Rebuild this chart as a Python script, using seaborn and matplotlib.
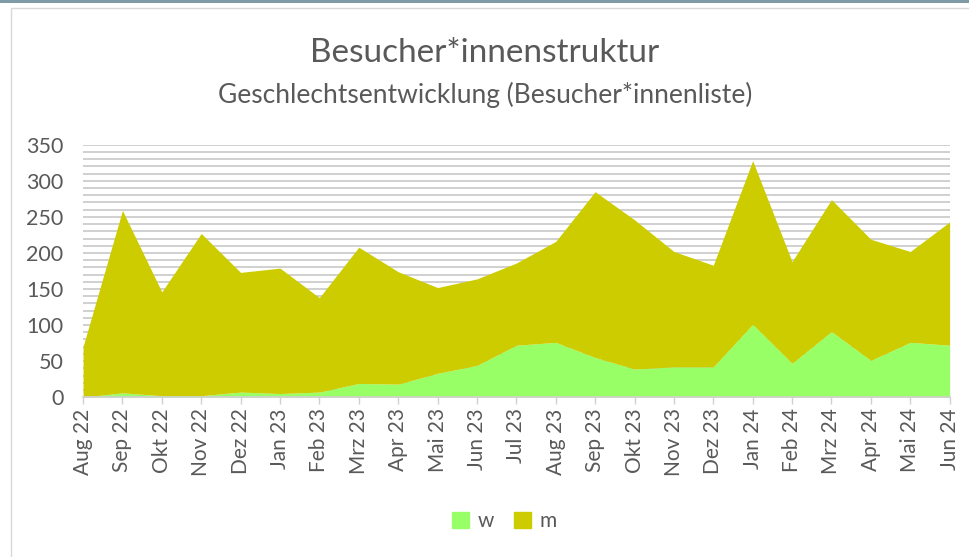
import numpy as np
import pandas as pd
import matplotlib
matplotlib.use("Agg")
import matplotlib.pyplot as plt
import seaborn as sns
from matplotlib.patches import Patch, Rectangle
from matplotlib.ticker import MultipleLocator

# data
months = ["Aug 22", "Sep 22", "Okt 22", "Nov 22", "Dez 22", "Jan 23", "Feb 23",
          "Mrz 23", "Apr 23", "Mai 23", "Jun 23", "Jul 23", "Aug 23", "Sep 23",
          "Okt 23", "Nov 23", "Dez 23", "Jan 24", "Feb 24", "Mrz 24", "Apr 24",
          "Mai 24", "Jun 24"]
w = [0, 6, 2, 2, 7, 5, 7, 19, 18, 33, 44, 72, 76, 55, 39, 42, 42, 101, 47, 91, 51, 76, 72]
m = [70, 253, 144, 225, 166, 174, 131, 189, 156, 119, 120, 114, 140, 230, 207, 160,
     141, 227, 141, 183, 168, 126, 171]

df = pd.DataFrame({"Monat": months, "w": w, "m": m})
df["pos"] = np.arange(len(df))
df["total"] = df["w"] + df["m"]

col_w = "#99FF66"
col_m = "#CCCC00"
txt = "#595959"

sns.set_theme(style="white")
plt.rcParams["font.family"] = ["Lato", "DejaVu Sans"]

fig = plt.figure(figsize=(9.7, 5.57), dpi=100)
ax = fig.add_axes([0.0856, 0.287, 0.8934, 0.453])

ax.fill_between(df["pos"], 0, df["w"], color=col_w, lw=0, zorder=3)
ax.fill_between(df["pos"], df["w"], df["total"], color=col_m, lw=0, zorder=3)

ax.set_xlim(0, len(df) - 1)
ax.set_ylim(0, 350)
ax.yaxis.set_major_locator(MultipleLocator(50))
ax.yaxis.set_minor_locator(MultipleLocator(10))
ax.grid(which="both", axis="y", color="#C8C8C8", lw=1.2, zorder=0)
ax.set_xticks(df["pos"])
ax.set_xticklabels(df["Monat"], rotation=90)
ax.tick_params(axis="x", colors=txt, labelsize=15, length=5, width=1, color="#D0D0D0", bottom=True, pad=3)
ax.tick_params(axis="y", which="both", colors=txt, labelsize=15.5, length=0, pad=14)
for s in ["top", "right", "left"]:
    ax.spines[s].set_visible(False)
ax.spines["bottom"].set_color("#D0D0D0")
ax.spines["bottom"].set_zorder(4)
ax.set_xlabel("")
ax.set_ylabel("")

fig.text(0.5, 0.905, "Besucher*innenstruktur", ha="center", va="center", fontsize=24, color=txt)
fig.text(0.5, 0.83, "Geschlechtsentwicklung (Besucher*innenliste)", ha="center", va="center",
         fontsize=19, color=txt)

handles = [Patch(color=col_w, label="w"), Patch(color=col_m, label="m")]
fig.legend(handles=handles, loc="center", bbox_to_anchor=(0.52, 0.065), ncol=2, frameon=False,
           fontsize=15, labelcolor=txt, handlelength=0.8, handleheight=0.8, columnspacing=1.0,
           handletextpad=0.4)

# chart frame
fig.patches.append(Rectangle((0.011, -0.01), 1.1, 0.995, transform=fig.transFigure,
                             fill=False, edgecolor="#D9D9D9", lw=1))
fig.patches.append(Rectangle((0, 0.995), 1, 0.005, transform=fig.transFigure,
                             color="#7F9BA6", lw=0))

fig.savefig("out.png", dpi=100)
